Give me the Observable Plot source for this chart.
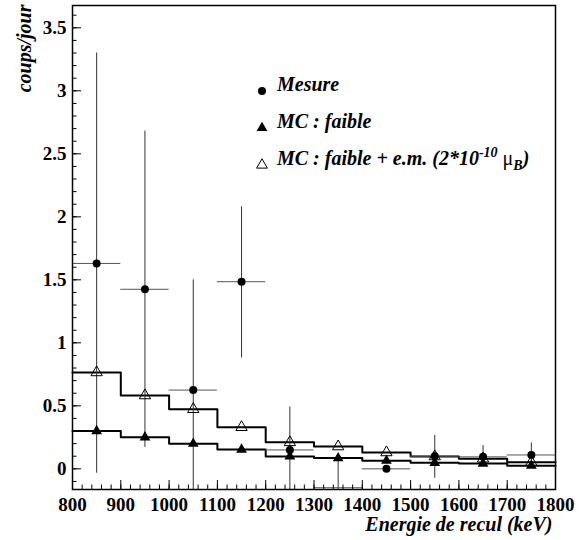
<!DOCTYPE html>
<html><head><meta charset="utf-8">
<script src="https://cdn.jsdelivr.net/npm/d3@7"></script>
<script src="https://cdn.jsdelivr.net/npm/@observablehq/plot@0.6"></script>
<style>
body{margin:0;background:#fff;}
#wrap{position:relative;width:579px;height:540px;}
#wrap svg g[aria-label$="tick label"] text{font-weight:bold;font-family:"Liberation Serif","Times New Roman",serif;}
</style></head><body><div id="wrap"></div>
<script>
// Bin centres (keV) and half-width
const energies = [850, 950, 1050, 1150, 1250, 1350, 1450, 1550, 1650, 1750];
const halfWidth = 50;
// Measured rate (coups/jour) and error-bar ends
const mesure     = [1.63, 1.425, 0.625, 1.485, 0.15, -0.15, 0.0, 0.10, 0.095, 0.11];
const mesureLow  = [-0.035, 0.17, -0.40, 0.88, -0.40, -0.40, 0.0, -0.075, 0.02, 0.02];
const mesureHigh = [3.30, 2.68, 1.50, 2.08, 0.49, 0.09, 0.0, 0.265, 0.185, 0.205];
// Monte Carlo : faible
const mcFaible = [0.30, 0.25, 0.20, 0.153, 0.098, 0.085, 0.065, 0.048, 0.042, 0.025];
// Monte Carlo : faible + e.m. (2e-10 muB)
const mcFaibleEm = [0.765, 0.582, 0.473, 0.33, 0.21, 0.177, 0.13, 0.098, 0.08, 0.053];
// Axis ticks
const xMajor = [800, 900, 1000, 1100, 1200, 1300, 1400, 1500, 1600, 1700, 1800];
const xMinor = d3.range(800, 1801, 20);
const yMajor = [0, 0.5, 1, 1.5, 2, 2.5, 3, 3.5];
const yMinor = d3.range(-0.1, 3.65, 0.1).map(v => Math.round(v * 10) / 10);
const xDomain = [800, 1800];
const yDomain = [-0.164, 3.677];
const xTitle = "Energie de recul (keV)";
const yTitle = "coups/jour";

const meas = energies.map((e, i) => ({e, x1: e - halfWidth, x2: e + halfWidth, v: mesure[i], lo: mesureLow[i], hi: mesureHigh[i]}));
const mc = energies.map((e, i) => ({e, f: mcFaible[i], em: mcFaibleEm[i]}));
const stepOf = vals => {
  const pts = energies.map((e, i) => ({x: e - halfWidth, y: vals[i]}));
  pts.push({x: energies[energies.length - 1] + halfWidth, y: vals[vals.length - 1]});
  return pts;
};

const font = "Liberation Serif, Times New Roman, serif";
const chart = Plot.plot({
  width: 579, height: 540,
  marginLeft: 72, marginRight: 24, marginTop: 5, marginBottom: 51,
  style: {fontFamily: font, background: "#fff", color: "#000"},
  x: {domain: xDomain, label: null},
  y: {domain: yDomain, label: null},
  marks: [
    Plot.line(stepOf(mcFaibleEm), {x: "x", y: "y", curve: "step-after", stroke: "#000", strokeWidth: 2}),
    Plot.line(stepOf(mcFaible), {x: "x", y: "y", curve: "step-after", stroke: "#000", strokeWidth: 2}),
    Plot.ruleX(meas, {x: "e", y1: "lo", y2: "hi", stroke: "#333", strokeWidth: 1, clip: true}),
    Plot.ruleY(meas, {y: "v", x1: "x1", x2: "x2", stroke: "#555", strokeWidth: 1, clip: true}),
    Plot.dot(meas.filter(d => d.v > -0.1), {x: "e", y: "v", r: 4, fill: "#000"}),
    Plot.dot(mc, {x: "e", y: "f", symbol: "triangle", r: 4, fill: "#000"}),
    Plot.dot(mc, {x: "e", y: "em", symbol: "triangle", r: 4.2, fill: "none", stroke: "#000", strokeWidth: 1}),
    Plot.axisX(xMinor, {tickSize: -4.5, tickFormat: () => "", label: null}),
    Plot.axisX(xMajor, {tickSize: -9, tickPadding: 16.5, fontSize: 19, fontWeight: "bold", label: null, tickFormat: d => String(d)}),
    Plot.axisY(yMinor, {tickSize: -4.5, tickFormat: () => "", label: null}),
    Plot.axisY(yMajor, {tickSize: -9, tickPadding: 15, fontSize: 19, fontWeight: "bold", label: null, tickFormat: d => String(d)}),
    Plot.frame({stroke: "#000", strokeWidth: 1.5}),
    Plot.text([yTitle], {frameAnchor: "top-left", rotate: -90, textAnchor: "end", lineAnchor: "bottom", dx: -42, dy: -1, fontSize: 20, fontWeight: "bold", fontStyle: "italic"}),
    Plot.text([xTitle], {frameAnchor: "bottom-right", textAnchor: "end", lineAnchor: "bottom", dx: -3, dy: 41, fontSize: 20, fontWeight: "bold", fontStyle: "italic"})
  ]
});
document.getElementById("wrap").appendChild(chart);

// Legend (inside the frame)
const legendRows = [
  {kind: "dot", label: "Mesure"},
  {kind: "tri", label: "MC : faible"},
  {kind: "open", label: "MC : faible + e.m. (2*10", sup: "-10", mu: "\u03bc", sub: "B", tail: ")"}
];
const svg = d3.select(chart);
const lg = svg.append("g").attr("font-family", font).attr("font-size", 20).attr("font-weight", "bold")
  .attr("font-style", "italic").attr("text-anchor", "start").attr("fill", "#000");
const rowY = [91, 128, 165];
const tri = d3.symbol(d3.symbolTriangle, Math.PI * 16)();
legendRows.forEach((r, i) => {
  const y = rowY[i];
  if (r.kind === "dot") lg.append("circle").attr("cx", 262).attr("cy", y).attr("r", 4).attr("fill", "#000");
  else lg.append("path").attr("d", tri).attr("transform", `translate(262,${y})`)
      .attr("fill", r.kind === "tri" ? "#000" : "none").attr("stroke", r.kind === "tri" ? "none" : "#000").attr("stroke-width", 1);
  const t = lg.append("text").attr("x", 277).attr("y", y).attr("text-anchor", "start");
  t.append("tspan").text(r.label);
  if (r.sup) {
    t.append("tspan").attr("font-size", 14).attr("dy", -8).text(r.sup);
    t.append("tspan").attr("dy", 8).text(" ");
    t.append("tspan").attr("font-style", "normal").attr("font-weight", "normal").text(r.mu);
    t.append("tspan").attr("font-size", 14).attr("dy", 5).text(r.sub);
    t.append("tspan").attr("dy", -5).text(r.tail);
  }
});
</script></body></html>
